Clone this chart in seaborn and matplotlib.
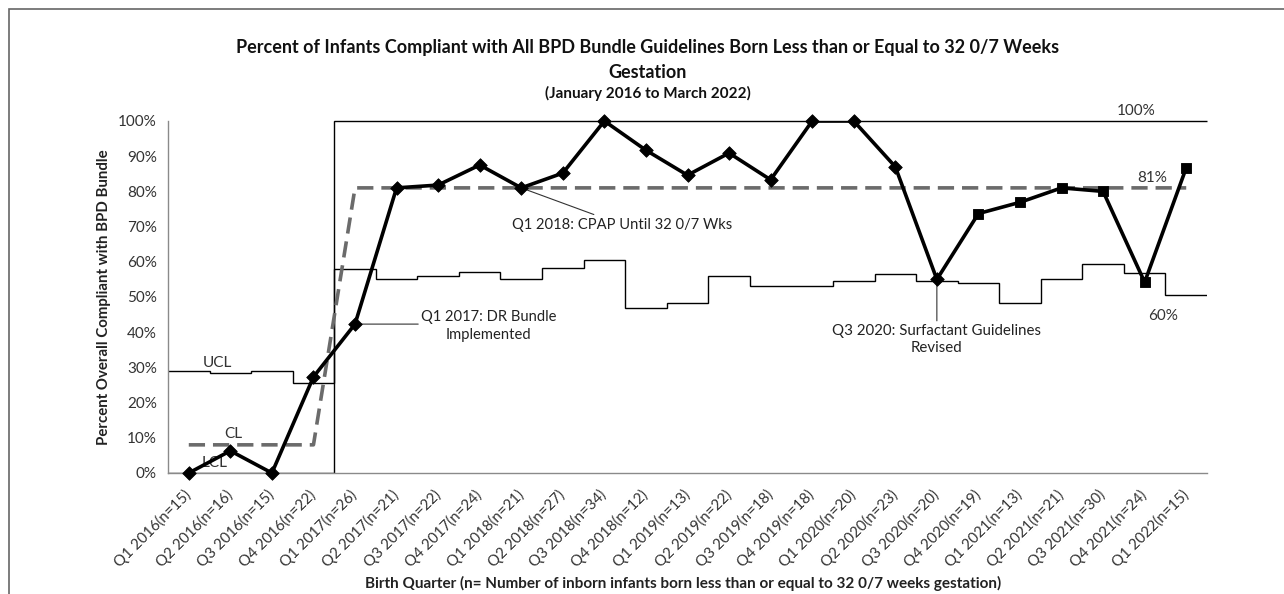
import numpy as np
import pandas as pd
import matplotlib
matplotlib.use("Agg")
import matplotlib.pyplot as plt
from matplotlib.patches import Rectangle
import seaborn as sns

# DATA
quarters = ["Q1 2016", "Q2 2016", "Q3 2016", "Q4 2016",
            "Q1 2017", "Q2 2017", "Q3 2017", "Q4 2017",
            "Q1 2018", "Q2 2018", "Q3 2018", "Q4 2018",
            "Q1 2019", "Q2 2019", "Q3 2019", "Q4 2019",
            "Q1 2020", "Q2 2020", "Q3 2020", "Q4 2020",
            "Q1 2021", "Q2 2021", "Q3 2021", "Q4 2021", "Q1 2022"]
n_infants = [15, 16, 15, 22, 26, 21, 22, 24, 21, 27, 34, 12, 13,
             22, 18, 18, 20, 23, 20, 19, 13, 21, 30, 24, 15]
pct_compliant = [0, 6.3, 0, 27.3, 42.3, 81.0, 81.8, 87.5, 81.0, 85.2,
                 100, 91.7, 84.6, 90.9, 83.3, 100, 100, 87.0, 55.0,
                 73.7, 76.9, 81.0, 80.0, 54.2, 86.7]
center_line = [8, 8, 8, 8] + [81] * 21
upper_limit = [29, 28.5, 29, 25.5] + [100] * 21
lower_limit = [0, 0, 0, 0,
               58, 55, 56, 57, 55, 58.2, 60.6, 47, 48.4, 56, 53, 53,
               54.6, 56.4, 54.6, 53.9, 48.4, 55.1, 59.5, 56.9, 50.6]
marker_group = ["diamond"] * 19 + ["square"] * 6

tick_labels = [f"{q}(n={n})" for q, n in zip(quarters, n_infants)]
df = pd.DataFrame({"pos": np.arange(len(quarters)), "pct": pct_compliant,
                   "cl": center_line, "grp": marker_group})

sns.set_style("white")
plt.rcParams["font.family"] = ["Lato", "DejaVu Sans"]

fig = plt.figure(figsize=(12.84, 5.94), dpi=100)
ax = fig.add_axes([168 / 1284, 1 - 473 / 594, 1039 / 1284, 352 / 594])

# control limits as step lines spanning each quarter
edges = np.arange(len(quarters) + 1) - 0.5
ax.stairs(upper_limit, edges, baseline=None, color="black", lw=1.0, clip_on=False, zorder=2)
ax.stairs(lower_limit, edges, baseline=None, color="black", lw=1.0, zorder=2)

# centre line (dashed)
sns.lineplot(data=df, x="pos", y="cl", ax=ax, color="#6b6b6b", lw=2.6,
             linestyle=(0, (4.5, 2.2)), zorder=3)

# observed compliance
sns.lineplot(data=df, x="pos", y="pct", ax=ax, color="black", lw=2.6, zorder=4)
sns.scatterplot(data=df[df["grp"] == "diamond"], x="pos", y="pct", ax=ax, marker="D",
                color="black", s=48, edgecolor="black", zorder=5, clip_on=False)
sns.scatterplot(data=df[df["grp"] == "square"], x="pos", y="pct", ax=ax, marker="s",
                color="black", s=62, edgecolor="black", zorder=5, clip_on=False)

ax.set_xlim(-0.5, len(quarters) - 0.5)
ax.set_ylim(0, 100)
ax.set_yticks(np.arange(0, 101, 10))
ax.set_yticklabels([f"{v}%" for v in range(0, 101, 10)])
ax.set_xticks(df["pos"])
ax.set_xticklabels(tick_labels, rotation=45, ha="right", va="center",
                   rotation_mode="anchor")
ax.set_xticks(edges, minor=True)
ax.tick_params(axis="x", which="major", length=0, pad=14, labelsize=10.8, labelcolor="#333333")
ax.tick_params(axis="x", which="minor", length=5, color="#8a8a8a", width=1, direction="out")
ax.tick_params(axis="y", length=5, color="#8a8a8a", width=1, direction="out",
               labelsize=11, labelcolor="#333333", pad=3)

for side in ["top", "right"]:
    ax.spines[side].set_visible(False)
for side in ["left", "bottom"]:
    ax.spines[side].set_color("#8a8a8a")
    ax.spines[side].set_linewidth(1.0)

ax.set_xlabel("Birth Quarter (n= Number of inborn infants born less than or equal to 32 0/7 weeks gestation)",
              fontsize=11, fontweight="bold", color="#222222", va="center")
ax.xaxis.set_label_coords(0.4957, -0.314)
ax.set_ylabel("Percent Overall Compliant with BPD Bundle", fontsize=10.8,
              fontweight="bold", color="#222222", va="center")
ax.yaxis.set_label_coords(-0.0616, 0.5)

# limit labels
lbl = dict(fontsize=11, color="#333333", ha="center", va="center")
ax.text(0.68, 31.3, "UCL", **lbl)
ax.text(1.06, 11.1, "CL", **lbl)
ax.text(0.63, 2.8, "LCL", zorder=1, **lbl)
ax.text(22.79, 102.8, "100%", clip_on=False, **lbl)
ax.text(23.18, 83.8, "81%", **lbl)
ax.text(23.44, 44.6, "60%", **lbl)

# event annotations
arrow = dict(arrowstyle="-", color="#333333", lw=0.8, shrinkA=0, shrinkB=0)
ax.annotate("Q1 2018: CPAP Until 32 0/7 Wks", xy=(8, 81.0), xytext=(10.42, 72.5),
            textcoords="data", arrowprops=arrow, fontsize=10.6, color="#222222",
            ha="center", va="top")
ax.annotate("", xy=(4, 42.3), xytext=(5.52, 42.3), arrowprops=arrow)
ax.text(7.22, 41.8, "Q1 2017: DR Bundle\nImplemented", fontsize=10.6, color="#222222",
        ha="center", va="center", linespacing=1.3)
ax.annotate("Q3 2020: Surfactant Guidelines\nRevised", xy=(18, 55.0), xytext=(18, 42.3),
            arrowprops=arrow, fontsize=10.8, color="#222222", ha="center", va="top",
            linespacing=1.3)

# titles
fig.text(648 / 1284, 1 - 47 / 594,
         "Percent of Infants Compliant with All BPD Bundle Guidelines Born Less than or Equal to 32 0/7 Weeks",
         fontsize=13, fontweight="bold", ha="center", va="center", color="#111111")
fig.text(648 / 1284, 1 - 73 / 594, "Gestation", fontsize=13, fontweight="bold",
         ha="center", va="center", color="#111111")
fig.text(648 / 1284, 1 - 93 / 594, "(January 2016 to March 2022)", fontsize=11,
         fontweight="bold", ha="center", va="center", color="#111111")

# outer chart frame
fig.add_artist(Rectangle((9 / 1284, -0.1), 1.2, 1 - 9 / 594 + 0.1, transform=fig.transFigure,
                         fill=False, edgecolor="#666666", lw=1.2))

fig.savefig("out.png", dpi=100)
